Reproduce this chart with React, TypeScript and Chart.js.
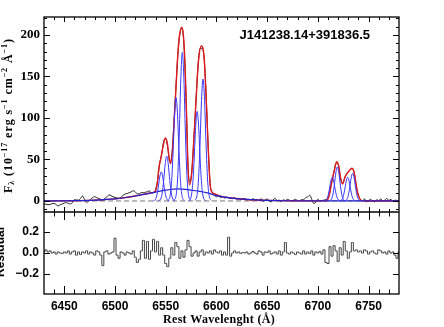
import React, { useEffect, useRef } from 'react';
import { Chart, registerables } from 'chart.js';
Chart.register(...registerables);

// ---------- data ----------
const X_MIN = 6430;
const X_MAX = 6780;
const X_TICKS = [6450, 6500, 6550, 6600, 6650, 6700, 6750];
const Y_TICKS = [0, 50, 100, 150, 200];
const RES_TICKS = [-0.2, 0, 0.2];
const RES_TICK_LABELS = ['\u22120.2', '0.0', '0.2'];
const Y_MIN = -13.3;
const Y_MAX = 221.7;
const RES_MIN = -0.39;
const RES_MAX = 0.39;

const OBJECT_NAME = 'J141238.14+391836.5';
const X_TITLE = 'Rest Wavelenght (\u00C5)';
const RES_TITLE = 'Residual';

// observed spectrum, sampled every 2 A from 6430 A
const SPEC_START = 6430;
const SPEC_STEP = 2;
const SPEC_FLUX = [
  -3.6, -4, -4.4, -4.4, -3, -3, -4.5, -6, -4.5, -3.6,
  -2.5, -2, -3, -3.6, -2, 1.5, 1.2, 1, 3, 6,
  2, -2, 0, 2, 4, 5.2, 4, 2.8, 2, 1.2,
  3, 5, 7.2, 6.5, 5, 4.4, 3.6, 3.2, 4.5, 7,
  8.4, 9, 10, 11, 12.4, 11, 8.4, 9, 10, 10,
  10.5, 11.2, 12, 9.5, 10, 14, 25, 45, 56, 72,
  75, 64, 47, 55, 92, 136, 177, 201, 209, 187,
  126, 42, 22, 40, 80, 124, 165, 184, 184, 170,
  122, 62, 18, 10, 7, 5, 6.5, 4, 5, 3.5,
  4.5, 4, 3, 2.8, 4, 2, 3, 1.5, 2.5, 3,
  1, 2, 0.5, 3, 1.2, 2, 0, 3, -0.5, 1,
  2.5, 0, -1, 1.5, 3, 0.5, 1, -1, 1.5, 0.5,
  2, 1, -0.5, 1, 2, 0.5, 0.5, 1.5, 1.5, 4,
  5, 7, 2, -3, -1.5, 2, 0, 0.5, 1, 1.5,
  3, 12, 24, 36, 46, 44, 30, 21, 26, 32,
  35, 38, 39, 33, 16, 6, 1.5, 0, 2.5, -1,
  0.5, 2, 0, -1, 1.5, 0.5, 2.5, 0, 1, 3,
  0.5, 2, -0.5, 1, 0.5, 1,
];

// residuals, same sampling
const RESIDUAL = [
  0.01, 0.03, 0.01, 0.02, 0.0, 0.01, -0.01, 0.01, 0.0, -0.005,
  0.01, 0.0, 0.02, -0.01, 0.01, 0.02, -0.02, 0.01, -0.015, 0.01,
  0.0, 0.02, -0.01, 0.01, 0.0, -0.02, 0.02, 0.01, -0.02, -0.12,
  0.01, 0.02, -0.01, 0.0, 0.01, 0.14, -0.02, -0.05, 0.01, 0.0,
  -0.02, 0.01, 0.0, -0.01, 0.02, -0.04, -0.09, -0.06, 0.02, 0.12,
  -0.05, 0.11, -0.06, 0.02, 0.13, 0.01, 0.11, -0.02, 0.05, -0.02,
  -0.1, -0.13, -0.05, 0.05, -0.02, 0.1, 0.06, -0.05, 0.02, -0.04,
  0.03, 0.12, 0.06, -0.03, 0.0, 0.02, -0.03, 0.01, 0.03, -0.02,
  0.01, 0.0, 0.02, -0.01, 0.03, 0.01, 0.0, 0.02, -0.02, 0.01,
  -0.02, 0.15, -0.03, 0.0, 0.02, 0.0, 0.01, -0.005, 0.005, 0.0,
  0.01, -0.01, 0.0, 0.015, 0.0, -0.01, 0.02, 0.01, -0.02, 0.01,
  0.005, 0.02, -0.01, 0.0, 0.01, -0.01, 0.02, -0.02, 0.01, 0.1,
  0.0, -0.01, 0.01, 0.0, -0.015, 0.01, 0.0, -0.01, 0.02, -0.01,
  0.01, -0.005, 0.02, -0.02, 0.01, 0.0, 0.015, -0.01, 0.03, -0.09,
  -0.1, 0.06, -0.03, 0.07, 0.02, -0.08, 0.05, -0.02, 0.11, 0.02,
  -0.05, 0.01, 0.1, 0.02, 0.03, 0.01, 0.02, 0.0, 0.03, 0.02,
  -0.01, 0.01, 0.02, 0.0, -0.01, 0.03, 0.02, 0.0, 0.01, -0.01,
  0.02, 0.0, 0.01, -0.02, -0.05, 0.01,
];

// total fit (red)
const FIT_WAVE = [6430, 6460, 6480, 6500, 6520, 6530, 6536, 6539.4, 6541.7, 6543.4, 6545, 6547.6, 6549.6, 6551.6, 6553.5, 6554.9, 6556.9, 6558.5, 6560.2, 6561.8, 6563.4, 6565.8, 6567.4, 6569, 6570.7, 6571.7, 6573.3, 6575.6, 6577.9, 6579.9, 6582.1, 6585.1, 6587.8, 6589.7, 6591.7, 6593.7, 6595.4, 6598.6, 6605, 6615, 6630, 6650, 6680, 6705, 6708.7, 6711.3, 6713.7, 6716.3, 6718.6, 6720.6, 6722.5, 6724.5, 6726.8, 6730, 6733.4, 6735.7, 6737.6, 6739.9, 6742.3, 6746, 6780];
const FIT_FLUX = [0, 0.3, 1, 2.5, 6, 8.5, 10, 11.2, 21, 41, 50, 67, 76, 69.5, 51, 45, 65, 101.6, 137.7, 174, 198, 209, 200, 166, 97.6, 49.4, 19.3, 33.4, 77.5, 121.7, 166, 186.7, 174, 130, 69.5, 21.3, 11.2, 8.4, 5.5, 3.5, 1.8, 0.7, 0.2, 0.1, 0.5, 7.2, 23, 37, 47.4, 42, 27, 20.5, 29, 35, 39.4, 35, 21, 7, 1.2, 0, 0];

// broad H-alpha component (blue)
const BROAD_WAVE = [6430, 6460, 6480, 6500, 6520, 6535, 6550, 6562, 6575, 6590, 6600, 6615, 6630, 6650, 6680, 6720, 6780];
const BROAD_FLUX = [0, 0.3, 1, 2.5, 6, 9.5, 13, 14.5, 13, 10, 6.5, 3.5, 1.8, 0.7, 0.2, 0, 0];

// narrow components (blue)
const NII6548_B_WAVE = [6537.6, 6539.6, 6541.1, 6542.6, 6544.1, 6545.6, 6547.1, 6548.6, 6550.1, 6551.6, 6553.6];
const NII6548_B_FLUX = [0.1, 1.5, 6.0, 16.0, 28.8, 35, 28.8, 16.0, 6.0, 1.5, 0.1];
const NII6548_R_WAVE = [6543, 6545, 6546.5, 6548, 6549.5, 6551, 6552.5, 6554, 6555.5, 6557, 6559];
const NII6548_R_FLUX = [0.2, 2.4, 9.3, 24.7, 44.4, 54, 44.4, 24.7, 9.3, 2.4, 0.2];
const HA_B_WAVE = [6552.2, 6554.2, 6555.7, 6557.2, 6558.7, 6560.2, 6561.7, 6563.2, 6564.7, 6566.2, 6568.2];
const HA_B_FLUX = [0.5, 5.5, 21.4, 57, 102.5, 124.5, 102.5, 57, 21.4, 5.5, 0.5];
const HA_R_WAVE = [6558.4, 6560.4, 6561.9, 6563.4, 6564.9, 6566.4, 6567.9, 6569.4, 6570.9, 6572.4, 6574.4];
const HA_R_FLUX = [0.7, 7.9, 30.8, 82, 147.3, 179, 147.3, 82, 30.8, 7.9, 0.7];
const NII6583_B_WAVE = [6573, 6575, 6576.5, 6578, 6579.5, 6581, 6582.5, 6584, 6585.5, 6587, 6589];
const NII6583_B_FLUX = [0.4, 4.8, 18.6, 49.5, 88.9, 108, 88.9, 49.5, 18.6, 4.8, 0.4];
const NII6583_R_WAVE = [6578.8, 6580.8, 6582.3, 6583.8, 6585.3, 6586.8, 6588.3, 6589.8, 6591.3, 6592.8, 6594.8];
const NII6583_R_FLUX = [0.6, 6.5, 25.3, 67.3, 121, 147, 121, 67.3, 25.3, 6.5, 0.6];
const SII6716_B_WAVE = [6706.2, 6708.2, 6709.7, 6711.2, 6712.7, 6714.2, 6715.7, 6717.2, 6718.7, 6720.2, 6722.2];
const SII6716_B_FLUX = [0.1, 1.3, 4.9, 13.1, 23.5, 28.5, 23.5, 13.1, 4.9, 1.3, 0.1];
const SII6716_R_WAVE = [6711.2, 6713.2, 6714.7, 6716.2, 6717.7, 6719.2, 6720.7, 6722.2, 6723.7, 6725.2, 6727.2];
const SII6716_R_FLUX = [0.2, 1.8, 7.1, 18.8, 33.7, 41, 33.7, 18.8, 7.1, 1.8, 0.2];
const SII6731_B_WAVE = [6721.4, 6723.4, 6724.9, 6726.4, 6727.9, 6729.4, 6730.9, 6732.4, 6733.9, 6735.4, 6737.4];
const SII6731_B_FLUX = [0.1, 1.3, 4.9, 13.1, 23.5, 28.5, 23.5, 13.1, 4.9, 1.3, 0.1];
const SII6731_R_WAVE = [6726.3, 6728.3, 6729.8, 6731.3, 6732.8, 6734.3, 6735.8, 6737.3, 6738.8, 6740.3, 6742.3];
const SII6731_R_FLUX = [0.1, 1.5, 5.7, 15.3, 27.5, 33.4, 27.5, 15.3, 5.7, 1.5, 0.1];

const ZERO_WAVE = [6430, 6780];
const ZERO_FLUX = [0, 0];

const NARROW = [
  [NII6548_B_WAVE, NII6548_B_FLUX],
  [NII6548_R_WAVE, NII6548_R_FLUX],
  [HA_B_WAVE, HA_B_FLUX],
  [HA_R_WAVE, HA_R_FLUX],
  [NII6583_B_WAVE, NII6583_B_FLUX],
  [NII6583_R_WAVE, NII6583_R_FLUX],
  [SII6716_B_WAVE, SII6716_B_FLUX],
  [SII6716_R_WAVE, SII6716_R_FLUX],
  [SII6731_B_WAVE, SII6731_B_FLUX],
  [SII6731_R_WAVE, SII6731_R_FLUX],
];

const pts = (w: number[], f: number[]) => w.map((x, i) => ({ x, y: f[i] }));

const SANS = '"Liberation Sans", Arial, sans-serif';
const SERIF = '"Liberation Serif", "Times New Roman", serif';

// rotated rich text, letter-spaced to a target length
function drawRich(ctx: CanvasRenderingContext2D, parts: { t: string; size: number; dy: number }[], cx: number, cy: number, family: string, weight: string, target: number) {
  ctx.save();
  ctx.translate(cx, cy);
  ctx.rotate(-Math.PI / 2);
  let total = 0;
  let nChars = 0;
  for (const p of parts) {
    ctx.font = `${weight} ${p.size}px ${family}`;
    total += ctx.measureText(p.t).width;
    nChars += p.t.length;
  }
  const sp = target > total ? (target - total) / Math.max(1, nChars - 1) : 0;
  const full = total + sp * (nChars - 1);
  let x = -full / 2;
  ctx.textBaseline = 'alphabetic';
  ctx.textAlign = 'left';
  for (const p of parts) {
    ctx.font = `${weight} ${p.size}px ${family}`;
    for (const ch of p.t) {
      ctx.fillText(ch, x, p.dy);
      x += ctx.measureText(ch).width + sp;
    }
  }
  ctx.restore();
}

const framePlugin = {
  id: 'frameTicks',
  afterDraw(chart: any) {
    const ctx: CanvasRenderingContext2D = chart.ctx;
    const xs = chart.scales.x;
    const ys = chart.scales.y;
    const yr = chart.scales.yr;
    const L = xs.left;
    const R = xs.right;
    const T = ys.top;
    const M = ys.bottom;
    const B = yr.bottom;
    ctx.save();
    ctx.strokeStyle = '#000';
    ctx.lineWidth = 1.3;
    ctx.strokeRect(L, T, R - L, B - T);
    ctx.beginPath();
    ctx.moveTo(L, M);
    ctx.lineTo(R, M);
    ctx.stroke();

    ctx.lineWidth = 1;
    ctx.beginPath();
    for (let v = 6440; v < X_MAX; v += 10) {
      const px = Math.round(xs.getPixelForValue(v)) + 0.5;
      const major = v % 50 === 0;
      const a = major ? 5 : 3;
      ctx.moveTo(px, T); ctx.lineTo(px, T + a);
      ctx.moveTo(px, M); ctx.lineTo(px, M - a);
      const b = major ? 8 : 4.5;
      ctx.moveTo(px, M); ctx.lineTo(px, M + b);
      ctx.moveTo(px, B); ctx.lineTo(px, B - b);
    }
    for (let v = -10; v <= 220; v += 10) {
      const py = Math.round(ys.getPixelForValue(v)) + 0.5;
      const major = v % 50 === 0;
      const a = major ? 6 : 3;
      ctx.moveTo(L, py); ctx.lineTo(L + a, py);
      ctx.moveTo(R, py); ctx.lineTo(R - a, py);
    }
    for (const v of RES_TICKS) {
      const py = Math.round(yr.getPixelForValue(v)) + 0.5;
      ctx.moveTo(L, py); ctx.lineTo(L + 6, py);
      ctx.moveTo(R, py); ctx.lineTo(R - 6, py);
    }
    ctx.stroke();

    ctx.fillStyle = '#000';
    ctx.font = `bold 13px ${SANS}`;
    ctx.textAlign = 'right';
    ctx.textBaseline = 'alphabetic';
    ctx.fillText(OBJECT_NAME, 370, 39);

    ctx.font = `bold 12px ${SERIF}`;
    ctx.textAlign = 'left';
    (ctx as any).letterSpacing = '0px';
    const w0 = ctx.measureText(X_TITLE).width;
    const targetW = 112;
    const sp = Math.max(0, (targetW - w0) / X_TITLE.length);
    (ctx as any).letterSpacing = `${sp.toFixed(2)}px`;
    ctx.fillText(X_TITLE, 163, 323);
    (ctx as any).letterSpacing = '0px';

    drawRich(ctx, [
      { t: 'F', size: 12, dy: 0 },
      { t: '\u03BB', size: 8, dy: 2 },
      { t: ' (10', size: 12, dy: 0 },
      { t: '\u221217', size: 8, dy: -5 },
      { t: ' erg s', size: 12, dy: 0 },
      { t: '\u22121', size: 8, dy: -5 },
      { t: ' cm', size: 12, dy: 0 },
      { t: '\u22122', size: 8, dy: -5 },
      { t: ' \u00C5', size: 12, dy: 0 },
      { t: '\u22121', size: 8, dy: -5 },
      { t: ')', size: 12, dy: 0 },
    ], 12, 116, SERIF, 'bold', 154);

    drawRich(ctx, [{ t: RES_TITLE, size: 12, dy: 0 }], 4, 252, SANS, 'bold', 0);
    ctx.restore();
  },
};

export default function App() {
  const ref = useRef<HTMLCanvasElement | null>(null);
  useEffect(() => {
    if (!ref.current) return;
    const narrowSets = NARROW.map(([w, f]) => ({
      data: pts(w, f),
      borderColor: '#3535ff',
      borderWidth: 1,
      pointRadius: 0,
      cubicInterpolationMode: 'monotone' as const,
      yAxisID: 'y',
      order: 2,
    }));
    const chart = new Chart(ref.current, {
      type: 'line',
      data: {
        datasets: [
          {
            data: pts(ZERO_WAVE, ZERO_FLUX),
            borderColor: '#777',
            borderWidth: 1,
            borderDash: [5, 3],
            pointRadius: 0,
            yAxisID: 'y',
            order: 7,
          },
          {
            data: SPEC_FLUX.map((y, i) => ({ x: SPEC_START + i * SPEC_STEP, y })),
            borderColor: '#222',
            borderWidth: 1,
            pointRadius: 0,
            cubicInterpolationMode: 'monotone',
            yAxisID: 'y',
            order: 6,
          },
          {
            data: pts(FIT_WAVE, FIT_FLUX),
            borderColor: '#e31a1c',
            borderWidth: 1.4,
            pointRadius: 0,
            cubicInterpolationMode: 'monotone',
            yAxisID: 'y',
            order: 5,
          },
          {
            data: pts(BROAD_WAVE, BROAD_FLUX),
            borderColor: '#2222cc',
            borderWidth: 1.2,
            pointRadius: 0,
            cubicInterpolationMode: 'monotone',
            yAxisID: 'y',
            order: 3,
          },
          ...narrowSets,
          {
            data: RESIDUAL.map((y, i) => ({ x: SPEC_START + i * SPEC_STEP, y })),
            borderColor: '#444',
            borderWidth: 1,
            pointRadius: 0,
            stepped: 'middle',
            yAxisID: 'yr',
            order: 1,
          },
        ] as any,
      },
      options: {
        responsive: false,
        animation: false,
        events: [],
        layout: { padding: { left: 0, right: 45, top: 17, bottom: 0 } },
        plugins: { legend: { display: false }, tooltip: { enabled: false }, title: { display: false } },
        scales: {
          x: {
            type: 'linear',
            position: 'bottom',
            min: X_MIN,
            max: X_MAX,
            grid: { display: false, drawTicks: false },
            border: { display: false },
            afterBuildTicks: (s: any) => { s.ticks = X_TICKS.map((v) => ({ value: v })); },
            afterFit: (s: any) => { s.height = 33; },
            ticks: {
              autoSkip: false,
              maxRotation: 0,
              padding: 5,
              color: '#000',
              font: { family: SANS, size: 12, weight: 'bold' },
              callback: (v: any) => String(v),
            },
          },
          yr: {
            type: 'linear',
            position: 'left',
            stack: 'panels',
            stackWeight: 82,
            min: RES_MIN,
            max: RES_MAX,
            grid: { display: false, drawTicks: false },
            border: { display: false },
            afterBuildTicks: (s: any) => { s.ticks = RES_TICKS.map((v) => ({ value: v })); },
            afterFit: (s: any) => { s.width = 44; },
            ticks: {
              padding: 5,
              color: '#000',
              font: { family: SANS, size: 12, weight: 'bold' },
              callback: (_v: any, i: number) => RES_TICK_LABELS[i],
            },
          },
          y: {
            type: 'linear',
            position: 'left',
            stack: 'panels',
            stackWeight: 195,
            min: Y_MIN,
            max: Y_MAX,
            grid: { display: false, drawTicks: false },
            border: { display: false },
            afterBuildTicks: (s: any) => { s.ticks = Y_TICKS.map((v) => ({ value: v })); },
            afterFit: (s: any) => { s.width = 44; },
            ticks: {
              padding: 4,
              color: '#000',
              font: { family: SERIF, size: 13, weight: 'bold' },
              callback: (v: any) => String(v),
            },
          },
        },
      } as any,
      plugins: [framePlugin],
    });
    return () => chart.destroy();
  }, []);
  return (
    <div style={{ position: 'absolute', left: 0, top: 0, width: 444, height: 327, background: '#fff' }}>
      <canvas ref={ref} width={444} height={327} style={{ display: 'block' }} />
    </div>
  );
}
